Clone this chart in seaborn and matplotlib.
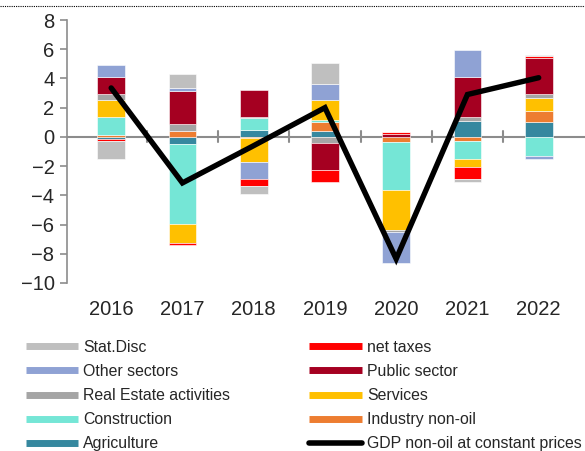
import numpy as np
import matplotlib.pyplot as plt
import seaborn as sns
from matplotlib.lines import Line2D

years = ["2016", "2017", "2018", "2019", "2020", "2021", "2022"]

# contributions (pp) per component, stacking order bottom-up
agriculture = [-0.16, -0.46, 0.48, 0.41, -0.02, 1.07, 1.05]
industry = [0.14, 0.37, -0.05, 0.62, -0.30, -0.30, 0.71]
construction = [1.23, -5.48, 0.78, 0.11, -3.33, -1.21, -1.28]
services = [1.16, -1.30, -1.67, 1.39, -2.72, -0.57, 0.89]
real_estate = [0.39, 0.50, 0.11, -0.43, -0.14, 0.27, 0.30]
public_sector = [1.21, 2.24, 1.83, -1.87, 0.18, 2.74, 2.44]
other_sectors = [0.80, 0.27, -1.19, 1.12, -2.12, 1.90, -0.23]
net_taxes = [-0.14, -0.18, -0.48, -0.80, 0.16, -0.80, 0.14]
stat_disc = [-1.21, 0.91, -0.50, 1.44, 0.0, -0.18, 0.09]
gdp_non_oil = [3.35, -3.15, -0.6, 2.0, -8.35, 2.9, 4.05]

series = [
    ("Agriculture", agriculture, "#36889F"),
    ("Industry non-oil", industry, "#ED7D31"),
    ("Construction", construction, "#75E6D6"),
    ("Services", services, "#FFC000"),
    ("Real Estate activities", real_estate, "#A5A5A5"),
    ("Public sector", public_sector, "#A50021"),
    ("Other sectors", other_sectors, "#8FA2D4"),
    ("net taxes", net_taxes, "#FF0000"),
    ("Stat.Disc", stat_disc, "#BFBFBF"),
]

sns.set_style("white")
plt.rcParams["font.family"] = ["Liberation Sans", "DejaVu Sans"]

fig = plt.figure(figsize=(5.85, 4.51), dpi=100)
ax = fig.add_axes([67 / 585, 1 - 283 / 451, 1 - 67 / 585, 263 / 451])

x = np.arange(len(years))
pos_base = np.zeros(len(years))
neg_base = np.zeros(len(years))
for name, vals, col in series:
    v = np.array(vals)
    bottom = np.where(v >= 0, pos_base, neg_base)
    ax.bar(x, v, bottom=bottom, width=0.39, color=col, edgecolor="white", linewidth=0.4, zorder=2)
    pos_base += np.clip(v, 0, None)
    neg_base += np.clip(v, None, 0)

sns.lineplot(x=x, y=gdp_non_oil, color="black", linewidth=3.9, ax=ax, zorder=4,
             solid_capstyle="round", solid_joinstyle="miter")

# zero line with category separators
ax.axhline(0, color="#8C8C8C", linewidth=1.5, zorder=1)
for b in np.arange(0.5, len(years) - 0.5, 1.0):
    ax.plot([b, b], [-0.38, 0.38], color="#8C8C8C", linewidth=1.5, zorder=1)

ax.set_xlim(-0.62, 6.65)
ax.set_ylim(-10, 8)
ax.set_yticks(range(-10, 9, 2))
ax.set_xticks(x)
ax.set_xticklabels(years)
ax.tick_params(axis="x", length=0, pad=12, labelsize=14.5)
ax.tick_params(axis="y", length=5, width=1.2, color="#8C8C8C", direction="out", left=True, labelsize=14.5, pad=4)
for s in ["top", "right", "bottom"]:
    ax.spines[s].set_visible(False)
ax.spines["left"].set_color("#8C8C8C")
ax.spines["left"].set_linewidth(1.2)

# dotted rule at the very top (title area cut off)
fig.add_artist(Line2D([0, 1], [1 - 6 / 451, 1 - 6 / 451], transform=fig.transFigure,
                      color="black", linestyle=(0, (1, 1)), linewidth=0.8))

lookup = {n: c for n, _, c in series}
order = ["Stat.Disc", "Other sectors", "Real Estate activities", "Construction", "Agriculture",
         "net taxes", "Public sector", "Services", "Industry non-oil"]
handles = [Line2D([], [], color=lookup[n], linewidth=5, solid_capstyle="butt") for n in order]
labels = list(order)
handles.append(Line2D([], [], color="black", linewidth=4, solid_capstyle="round"))
labels.append("GDP non-oil at constant prices")

fig.legend(handles, labels, ncol=2, loc="upper left", bbox_to_anchor=(26 / 585, 1 - 340 / 451),
           frameon=False, fontsize=11.4, handlelength=3.3, handletextpad=0.32,
           labelspacing=0.57, columnspacing=5.0, borderaxespad=0, borderpad=0)

fig.savefig("out.png", dpi=100)
